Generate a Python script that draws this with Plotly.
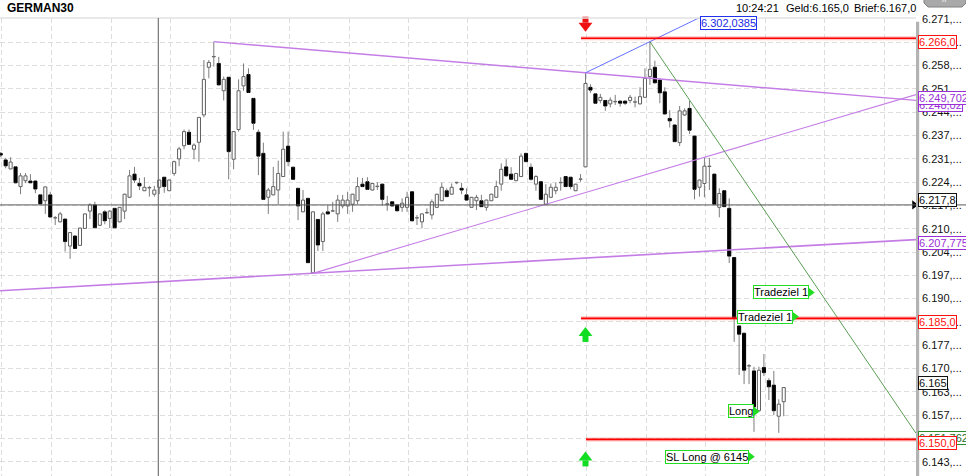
import plotly.graph_objects as go

# ---------------- data ----------------
bars = list(range(1, 160))
opens = [6232.7,6230.8,6228.2,6228.8,6223.1,6224.8,6224.7,6224.7,6220.7,6219.0,
         6220.7,6214.0,6212.9,6213.7,6205.9,6208.8,6206.1,6211.0,6216.0,6217.8,
         6211.9,6215.8,6213.9,6216.8,6212.9,6216.0,6220.0,6226.7,6224.0,6221.9,
         6222.7,6220.9,6222.9,6225.8,6221.9,6226.9,6231.1,6234.9,6238.8,6233.9,
         6235.9,6243.8,6257.6,6260.6,6258.7,6250.8,6254.7,6231.0,6239.6,6252.2,
         6255.5,6248.6,6238.8,6232.7,6220.0,6220.7,6222.1,6226.0,6234.8,6228.7,
         6222.6,6215.8,6219.7,6198.2,6213.6,6207.2,6215.8,6216.0,6215.2,6217.5,
         6217.5,6218.0,6219.0,6223.8,6224.5,6222.1,6223.1,6223.8,6218.0,6218.7,
         6217.8,6217.1,6217.1,6221.6,6214.0,6212.9,6215.5,6214.9,6217.1,6219.0,
         6221.9,6220.9,6224.2,6222.6,6220.7,6217.1,6219.0,6219.0,6217.1,6219.0,
         6220.0,6223.8,6228.8,6226.7,6224.8,6226.0,6232.7,6228.7,6223.8,6224.5,
         6218.0,6220.0,6221.9,6224.2,6226.0,6225.8,6221.9,6225.2,6228.8,6251.8,
         6249.9,6248.0,6248.0,6247.0,6247.6,6247.8,6247.8,6248.0,6247.5,6247.0,
         6248.9,6254.9,6257.6,6253.9,6250.5,6242.8,6240.9,6235.8,6243.8,6245.7,
         6237.7,6222.9,6224.0,6228.9,6226.7,6217.1,6221.9,6216.8,6202.6,6182.8,
         6180.7,6171.2,6169.8,6158.3,6170.8,6167.0,6165.7,6156.7,6160.9]
highs = [6233.1,6231.4,6231.6,6229.0,6227.0,6227.0,6226.7,6224.8,6221.0,6223.1,
         6221.6,6214.6,6215.8,6213.8,6209.9,6208.9,6211.2,6215.3,6218.3,6218.7,
         6215.3,6216.3,6216.3,6216.9,6217.2,6221.0,6227.9,6228.8,6225.6,6225.8,
         6223.3,6223.3,6225.1,6225.9,6225.1,6230.6,6234.6,6239.6,6239.6,6235.6,
         6243.2,6259.7,6259.7,6265.0,6260.6,6254.9,6254.8,6239.1,6254.1,6258.7,
         6257.3,6248.7,6239.6,6235.8,6222.7,6228.8,6230.6,6239.0,6239.0,6228.8,
         6222.7,6222.1,6219.8,6215.9,6213.7,6215.8,6217.8,6218.7,6220.7,6220.7,
         6221.6,6221.0,6225.8,6225.6,6225.8,6224.1,6224.4,6223.9,6220.4,6218.8,
         6217.9,6219.7,6221.6,6221.7,6214.9,6215.3,6216.8,6219.4,6221.0,6224.2,
         6222.6,6224.0,6224.5,6224.2,6222.6,6220.1,6220.7,6220.7,6219.3,6221.0,
         6224.8,6229.8,6231.0,6228.7,6227.0,6232.7,6232.8,6229.8,6226.4,6224.6,
         6223.8,6224.0,6224.2,6225.8,6226.1,6225.9,6223.9,6226.7,6256.0,6252.7,
         6250.0,6249.9,6248.1,6248.9,6249.6,6248.1,6248.1,6249.6,6249.1,6251.8,
         6257.3,6265.0,6259.5,6254.4,6251.8,6245.2,6241.0,6246.4,6245.7,6248.0,
         6237.8,6225.1,6231.5,6231.4,6226.8,6222.6,6222.0,6219.7,6202.7,6182.9,
         6180.8,6171.8,6171.0,6171.0,6174.7,6167.7,6169.8,6161.6,6165.1]
lows = [6231.6,6228.4,6228.2,6224.0,6220.9,6224.1,6224.1,6221.2,6218.0,6215.2,
        6214.2,6212.0,6212.8,6204.3,6202.2,6205.1,6206.0,6210.9,6213.7,6211.1,
        6211.8,6212.2,6211.1,6211.1,6212.8,6213.7,6219.9,6224.1,6222.1,6221.8,
        6220.2,6220.2,6220.9,6221.3,6221.8,6226.2,6229.0,6233.9,6235.2,6231.0,
        6230.3,6243.1,6254.4,6257.8,6252.4,6248.0,6225.2,6228.1,6239.0,6250.8,
        6250.2,6239.5,6226.4,6219.3,6215.2,6220.6,6218.0,6225.9,6229.0,6225.1,
        6213.4,6215.7,6201.0,6198.0,6204.5,6204.5,6215.1,6215.8,6212.9,6216.8,
        6215.2,6215.8,6218.0,6223.0,6222.2,6222.0,6222.1,6217.5,6216.1,6217.4,
        6216.0,6215.8,6215.8,6213.1,6212.0,6211.0,6215.2,6213.6,6217.0,6218.9,
        6220.1,6220.8,6223.8,6220.9,6219.1,6217.0,6216.3,6217.2,6216.1,6218.9,
        6219.9,6221.9,6226.1,6225.1,6224.7,6225.9,6230.2,6224.8,6221.9,6219.3,
        6217.9,6219.9,6220.9,6221.9,6223.0,6222.3,6221.8,6224.5,6228.7,6250.2,
        6247.1,6247.2,6245.0,6246.0,6246.7,6246.2,6246.7,6247.2,6246.0,6246.9,
        6248.8,6252.5,6253.0,6247.2,6244.0,6240.2,6236.0,6234.8,6243.5,6238.3,
        6219.4,6220.2,6220.0,6222.1,6217.9,6214.2,6217.2,6201.0,6178.2,6168.6,
        6166.0,6166.0,6152.2,6158.2,6168.3,6161.4,6157.0,6151.9,6156.7]
closes = [6232.2,6229.1,6230.2,6224.2,6226.2,6226.2,6224.2,6222.4,6218.1,6223.0,
          6214.3,6214.1,6215.2,6207.2,6209.8,6205.2,6211.1,6215.2,6217.8,6211.2,
          6215.2,6213.2,6216.0,6211.2,6217.1,6220.9,6226.2,6225.0,6223.3,6222.9,
          6222.8,6222.1,6225.0,6223.1,6225.0,6230.3,6234.0,6239.0,6235.3,6235.1,
          6243.1,6254.1,6259.0,6260.7,6252.5,6254.1,6233.2,6239.0,6250.8,6254.9,
          6250.3,6241.4,6231.9,6219.4,6222.1,6223.1,6226.9,6233.9,6230.3,6225.2,
          6217.5,6219.2,6201.1,6215.8,6206.2,6215.2,6215.2,6216.1,6219.2,6219.2,
          6219.2,6220.9,6223.1,6223.1,6222.3,6224.0,6223.2,6219.4,6218.1,6217.5,
          6216.1,6218.3,6220.0,6213.2,6214.1,6215.2,6215.6,6218.7,6220.9,6222.9,
          6220.2,6222.9,6224.3,6222.1,6219.2,6220.0,6220.0,6217.3,6219.2,6220.9,
          6223.1,6228.1,6226.2,6225.2,6226.9,6231.9,6230.3,6225.2,6226.0,6219.4,
          6220.9,6222.9,6222.9,6224.3,6223.1,6223.1,6223.8,6225.3,6252.9,6251.0,
          6247.2,6248.9,6246.4,6248.1,6247.7,6247.2,6247.2,6248.9,6247.6,6249.1,
          6254.4,6257.0,6253.1,6250.2,6244.1,6242.1,6236.1,6245.0,6245.0,6239.4,
          6222.3,6225.0,6229.0,6229.0,6218.0,6221.1,6217.3,6203.0,6185.1,6180.4,
          6170.0,6171.3,6159.4,6170.0,6169.3,6165.2,6158.3,6160.2,6165.0]

# y-axis ticks (values shown truncated, as in the terminal)
tick_values = [6143.55 + k * 128.0 / 19 for k in range(20)]
tick_text = [f"{int(v):,}".replace(",", ".") + ",..." for v in tick_values]

# chart objects
level_prices = [6266.0, 6185.0, 6150.0]          # red horizontal levels
level_start_bars = [118.1, 118.1, 119.1]
desc_x, desc_y = [44, 185.69], [6265.0, 6248.02]   # upper purple trendline
asc_x, asc_y = [64, 185.69], [6198.0, 6249.702]    # rising purple trendline
base_x, base_y = [0.86, 185.69], [6193.0, 6207.775]  # long lower purple line
blue_x, blue_y = [119, 142.1], [6256.0, 6272.0]
green_x, green_y = [132, 185.69], [6265.0, 6151.762]
cross_price = 6217.8
cross_bar = 32.8
last_price = 6165.0
signal_bars = [119, 119, 119]
signal_tips = [6268.6, 6181.8, 6145.8]
signal_dirs = ["down", "up", "up"]
trade_labels = ["Tradeziel 1", "Tradeziel 1", "Long", "SL Long @ 6145"]
trade_label_bars = [164.9, 161.7, 153.8, 152.8]
trade_label_prices = [6192.5, 6185.5, 6158.1, 6145.0]
projection_text = "6.302,0385"
header_texts = ["10:24:21", "Geld:6.165,0", "Brief:6.167,0"]

# ---------------- figure ----------------
X0, X1 = 0.86, 185.69
Y0, Y1 = 6139.42, 6271.84
PX = 458 / (Y1 - Y0)   # pixels per point

FONT = "Liberation Sans, Arial, sans-serif"
fig = go.Figure()

# wicks (upper and lower parts, so they don't cross hollow bodies)
wx, wy = [], []
for n, o, h, l, c in zip(bars, opens, highs, lows, closes):
    top, bot = max(o, c), min(o, c)
    wx += [n, n, None, n, n, None]
    wy += [h, top, None, bot, l, None]
fig.add_trace(go.Scatter(x=wx, y=wy, mode="lines", line=dict(color="#7c7c7c", width=1),
                         hoverinfo="skip"))

up = [(n, o, c) for n, o, c in zip(bars, opens, closes) if c >= o]
dn = [(n, o, c) for n, o, c in zip(bars, opens, closes) if c < o]
fig.add_trace(go.Bar(x=[u[0] for u in up], base=[u[1] for u in up],
                     y=[max(u[2] - u[1], 0.12) for u in up], width=0.62,
                     marker=dict(color="white", line=dict(color="#5e5e5e", width=1))))
fig.add_trace(go.Bar(x=[d[0] for d in dn], base=[d[2] for d in dn],
                     y=[d[1] - d[2] for d in dn], width=0.62,
                     marker=dict(color="black", line=dict(color="black", width=1))))

# trend lines
purple = "#c57de6"
fig.add_trace(go.Scatter(x=base_x, y=base_y, mode="lines", line=dict(color=purple, width=1.6)))
fig.add_trace(go.Scatter(x=desc_x, y=desc_y, mode="lines", line=dict(color=purple, width=1.4)))
fig.add_trace(go.Scatter(x=asc_x, y=asc_y, mode="lines", line=dict(color=purple, width=1.1)))
fig.add_trace(go.Scatter(x=blue_x, y=blue_y, mode="lines", line=dict(color="#6470ff", width=1)))
fig.add_trace(go.Scatter(x=green_x, y=green_y, mode="lines", line=dict(color="#5b9e55", width=1)))

# red levels
for p, s in zip(level_prices, level_start_bars):
    fig.add_trace(go.Scatter(x=[s, X1], y=[p, p], mode="lines",
                             line=dict(color="rgba(255,80,80,0.35)", width=4)))
    fig.add_trace(go.Scatter(x=[s, X1], y=[p, p], mode="lines",
                             line=dict(color="#ff0000", width=1.6)))

# signal arrows (head + stem)
for b, tip, d in zip(signal_bars, signal_tips, signal_dirs):
    sgn = 1 if d == "down" else -1
    col = "#ee1111" if d == "down" else "#11dd22"
    head = tip + sgn * 3.5 / PX
    stem = tip + sgn * 9.5 / PX
    fig.add_trace(go.Scatter(x=[b], y=[head], mode="markers", cliponaxis=False,
                             marker=dict(symbol="triangle-down" if d == "down" else "triangle-up",
                                         size=12, color=col, line=dict(width=0))))
    fig.add_trace(go.Scatter(x=[b], y=[stem], mode="markers", cliponaxis=False,
                             marker=dict(symbol="square", size=6, color=col, line=dict(width=0))))

# trade label pointer triangles
fig.add_trace(go.Scatter(x=[b - 0.45 for b in trade_label_bars], y=trade_label_prices,
                         mode="markers", marker=dict(symbol="triangle-right", size=8,
                                                     color="#22dd22", line=dict(width=0))))

# crosshair end marker
fig.add_trace(go.Scatter(x=[X1 - 0.35], y=[cross_price], mode="markers", cliponaxis=False,
                         marker=dict(symbol="triangle-right", size=8, color="black")))

shapes = []
# header separator
shapes.append(dict(type="line", xref="paper", yref="paper", x0=0, x1=1, y0=1, y1=1,
                   line=dict(color="#e2e2e2", width=1.5)))
# crosshair
shapes.append(dict(type="line", xref="paper", yref="y", x0=0, x1=1.06, y0=cross_price,
                   y1=cross_price, line=dict(color="#5a5a5a", width=1)))
shapes.append(dict(type="line", xref="x", yref="paper", x0=cross_bar, x1=cross_bar, y0=0,
                   y1=1, line=dict(color="#5a5a5a", width=1)))
# axis separator bar
shapes.append(dict(type="rect", xref="paper", yref="paper", x0=1.0, x1=1.0035, y0=0,
                   y1=(476 - 21.7) / 458, fillcolor="#b3b3b3", line=dict(width=0), layer="above"))
# scroll button top-right
shapes.append(dict(type="path", xref="paper", yref="paper",
                   path=f"M {924/916},{1.05} L {924/916},{(476-3)/458} L {928/916},{(476-7)/458} "
                        f"L {962/916},{(476-7)/458} L {966/916},{(476-3)/458} L {966/916},{1.05} Z",
                   fillcolor="#a9a9a9", line=dict(color="#808080", width=1)))

def fmt(v, d):
    return f"{v:,.{d}f}".replace(",", "#").replace(".", ",").replace("#", ".")

ann = []
# header
ann.append(dict(xref="paper", yref="paper", x=5 / 916, y=(476 - 7.5) / 458, xanchor="left",
                yanchor="middle", text="<b>GERMAN30</b>", showarrow=False,
                font=dict(family=FONT, size=12, color="black")))
for txt, px in zip(header_texts, [780.5, 851, 918.5]):
    ann.append(dict(xref="paper", yref="paper", x=px / 916, y=(476 - 7.5) / 458,
                    xanchor="right", yanchor="middle", text=txt, showarrow=False,
                    font=dict(family=FONT, size=11, color="black")))
ann.append(dict(xref="paper", yref="paper", x=945 / 916, y=(476 - 2.5) / 458, text="^",
                xanchor="center", yanchor="middle", showarrow=False,
                font=dict(family=FONT, size=9, color="white")))

# projection box
ann.append(dict(xref="x", yref="y", x=blue_x[1], y=6270.5, xanchor="left", yanchor="middle",
                text=projection_text, showarrow=False, bgcolor="white", bordercolor="#2233ee",
                borderwidth=1, borderpad=0, font=dict(family=FONT, size=11, color="#1a2ae6")))

# trade labels
for t, b, p in zip(trade_labels, trade_label_bars, trade_label_prices):
    ann.append(dict(xref="x", yref="y", x=b, y=p, xanchor="right", yanchor="middle",
                    xshift=-4, text=t, showarrow=False, bgcolor="white",
                    bordercolor="#22dd22", borderwidth=1, borderpad=0,
                    font=dict(family=FONT, size=11, color="black")))

# right-axis value boxes
def axis_box(val, text, col, shift, tcol=None):
    ann.append(dict(xref="paper", yref="y", x=918.3 / 916, y=val, yshift=shift,
                    xanchor="left", yanchor="middle", text=text, showarrow=False,
                    bgcolor="white", bordercolor=col, borderwidth=1, borderpad=0,
                    font=dict(family=FONT, size=11, color=tcol or col)))

axis_box(desc_y[1], fmt(desc_y[1], 2), "#9a2fd6", -5)
axis_box(asc_y[1], fmt(asc_y[1], 3), "#9a2fd6", -3)
axis_box(base_y[1], fmt(base_y[1], 3), "#9a2fd6", -3.5)
axis_box(level_prices[0], fmt(level_prices[0], 1), "#ff1111", -4)
axis_box(level_prices[1], fmt(level_prices[1], 1), "#ff1111", -3.7)
axis_box(cross_price, fmt(cross_price, 1), "#111111", 5)
axis_box(last_price, f"{int(last_price):,}".replace(",", "."), "#111111", 4.5)
axis_box(green_y[1], fmt(green_y[1], 3), "#2b8a2b", -5, "#1f6f1f")
axis_box(level_prices[2], fmt(level_prices[2], 1), "#ff1111", -3.6)

grid_bars = [1.2] + [11.29 + 12 * k for k in range(15)]

fig.update_layout(
    width=966, height=476, margin=dict(l=0, r=50, t=18, b=0),
    paper_bgcolor="white", plot_bgcolor="white", showlegend=False,
    barmode="overlay", bargap=0, shapes=shapes, annotations=ann,
    hovermode=False,
)
fig.update_xaxes(range=[X0, X1], tickvals=grid_bars, showticklabels=False, ticks="",
                 showgrid=True, gridcolor="#dddddd", griddash="5px,3px", gridwidth=1,
                 zeroline=False, showline=False)
fig.update_yaxes(range=[Y0, Y1], side="right", tickvals=tick_values, ticktext=tick_text,
                 ticks="", showgrid=True, gridcolor="#dddddd", griddash="5px,3px",
                 gridwidth=1, zeroline=False, showline=False, ticklabelstandoff=5,
                 tickfont=dict(family=FONT, size=11, color="#111111"))

fig.write_html("out.html", config={"displayModeBar": False, "staticPlot": True},
               post_script="document.body.style.margin='0px';document.body.style.overflow='hidden';")
